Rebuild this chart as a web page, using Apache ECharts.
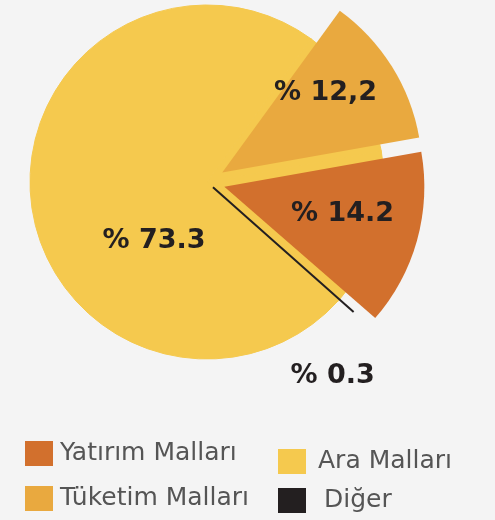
<!DOCTYPE html>
<html>
<head>
<meta charset="utf-8">
<script src="https://cdn.jsdelivr.net/npm/echarts@6/dist/echarts.min.js"></script>
<style>
html, body { margin: 0; padding: 0; background: #f4f4f4; }
#chart { width: 495px; height: 520px; }
</style>
</head>
<body>
<div id="chart"></div>
<script>
// pie slices, in clockwise order starting top right
const names = ['Tüketim Malları', 'Yatırım Malları', 'Diğer', 'Ara Malları'];
const shares = [12.2, 14.2, 0.3, 73.3];
const valueLabels = ['% 12,2', '% 14.2', '% 0.3', '% 73.3'];
const colors = ['#e9a93f', '#d2702d', '#231f20', '#f5c94e'];
const exploded = ['Tüketim Malları', 'Yatırım Malları'];

const center = [207, 182];
const startAngle = 54;
const clear = 'rgba(0,0,0,0)';

const labelFont = {
    fontFamily: 'DejaVu Sans',
    fontWeight: 'bold',
    fontSize: 27,
    color: '#231f20'
};

// small nudges so the labels sit where the original puts them
const labelShift = {
    'Tüketim Malları': { dx: 16, dy: -25 },
    'Yatırım Malları': { dx: 19, dy: 0 },
    'Ara Malları': { dx: 38, dy: 50 },
    'Diğer': { dx: -68, dy: 64 }
};
const shiftLabel = params => labelShift[names[params.dataIndex]] || {};

function labelOf(name) {
    return valueLabels[names.indexOf(name)];
}

const chart = echarts.init(document.getElementById('chart'));

const legendText = {
    fontFamily: 'DejaVu Sans',
    fontSize: 25,
    color: '#555555'
};

// one legend box per entry, laid out in two columns
function legendItem(name, left, top, pad) {
    return {
        left: left,
        top: top,
        padding: 0,
        icon: 'rect',
        itemWidth: 28,
        itemHeight: 25,
        selectedMode: false,
        textStyle: Object.assign({ padding: [0, 0, 0, pad] }, legendText),
        data: [{
            name: name,
            itemStyle: { color: colors[names.indexOf(name)], borderWidth: 0 }
        }]
    };
}

chart.setOption({
    backgroundColor: '#f4f4f4',
    animation: false,
    legend: [
        legendItem('Yatırım Malları', 25, 441, 2),
        legendItem('Tüketim Malları', 25, 486, 2),
        legendItem('Ara Malları', 278, 449, 7),
        legendItem('Diğer', 278, 488, 13)
    ],
    series: [
        // full yellow disc that shows through the gaps
        {
            type: 'pie',
            z: 1,
            center: center,
            radius: 177,
            startAngle: startAngle,
            silent: true,
            avoidLabelOverlap: false,
            itemStyle: { borderWidth: 1, borderColor: colors[3] },
            label: { show: false },
            labelLine: { show: false },
            labelLayout: shiftLabel,
            data: names.map((n, i) => ({
                name: n,
                value: shares[i],
                itemStyle: { color: colors[3] },
                label: n === 'Ara Malları'
                    ? Object.assign({ show: true, position: 'inside', formatter: labelOf(n) }, labelFont)
                    : { show: false }
            }))
        },
        // the two pulled out slices
        {
            type: 'pie',
            z: 2,
            center: center,
            radius: 200,
            startAngle: startAngle,
            silent: true,
            selectedMode: 'multiple',
            selectedOffset: 18,
            avoidLabelOverlap: false,
            itemStyle: { borderWidth: 0 },
            labelLine: { show: false },
            labelLayout: shiftLabel,
            data: names.map((n, i) => {
                const out = exploded.indexOf(n) >= 0;
                return {
                    name: n,
                    value: shares[i],
                    selected: out,
                    itemStyle: { color: out ? colors[i] : clear },
                    label: out
                        ? Object.assign({ show: true, position: 'inside', formatter: labelOf(n) }, labelFont)
                        : { show: false }
                };
            })
        },
        // Diğer: drawn as a thin leader line from the middle
        {
            type: 'pie',
            z: 3,
            center: center,
            radius: 8,
            startAngle: startAngle,
            silent: true,
            avoidLabelOverlap: false,
            itemStyle: { borderWidth: 0 },
            labelLayout: shiftLabel,
            data: names.map((n, i) => ({
                name: n,
                value: shares[i],
                itemStyle: { color: clear },
                label: n === 'Diğer'
                    ? Object.assign({ show: true, position: 'outside', formatter: labelOf(n) }, labelFont)
                    : { show: false },
                labelLine: n === 'Diğer'
                    ? { show: true, length: 188, length2: 0, smooth: false, lineStyle: { color: colors[2], width: 2 } }
                    : { show: false }
            }))
        }
    ]
});
</script>
</body>
</html>
